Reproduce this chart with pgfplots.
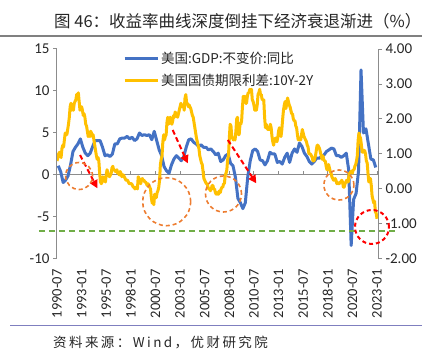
\documentclass[border=0pt]{standalone}
\usepackage{pgfplots}
\pgfplotsset{compat=1.18}
\usepackage{pgfplotstable}
\usepackage{fontspec}
\setmainfont{Carlito}
\newfontfamily\cjk{Noto Sans CJK SC}
\usetikzlibrary{arrows.meta}
\definecolor{gdpblue}{HTML}{4472C4}
\definecolor{spreadyellow}{HTML}{FFC000}
\definecolor{annorange}{HTML}{ED7D31}
\definecolor{anngreen}{HTML}{70AD47}
\definecolor{axgray}{HTML}{8C8C8C}
\definecolor{srcline}{HTML}{7F7FBF}

% US 10Y-2Y spread, monthly from 1990-07
\pgfplotstableread[row sep=\\]{v\\
0.80\\0.90\\1.00\\1.05\\0.95\\0.90\\
1.15\\1.25\\1.20\\1.40\\1.60\\1.55\\1.55\\1.70\\1.85\\2.05\\2.35\\2.45\\
2.25\\2.35\\2.25\\2.45\\2.50\\2.55\\2.70\\2.65\\2.75\\2.50\\2.25\\2.30\\
2.35\\2.25\\2.10\\2.15\\2.05\\1.85\\1.80\\1.65\\1.50\\1.55\\1.50\\1.65\\
1.60\\1.50\\1.55\\1.40\\1.25\\1.10\\0.95\\0.85\\0.90\\0.80\\0.45\\0.20\\
0.15\\0.20\\0.35\\0.30\\0.30\\0.20\\0.40\\0.55\\0.45\\0.40\\0.35\\0.40\\
0.45\\0.60\\0.65\\0.55\\0.55\\0.50\\0.50\\0.55\\0.45\\0.45\\0.40\\0.50\\
0.45\\0.35\\0.40\\0.40\\0.35\\0.30\\0.25\\0.25\\0.25\\0.20\\0.15\\0.15\\
0.15\\0.15\\0.10\\0.05\\0.05\\0.00\\0.05\\0.05\\0.00\\0.35\\0.30\\0.20\\
0.15\\0.25\\0.30\\0.25\\0.25\\0.20\\0.20\\0.15\\0.10\\0.15\\0.10\\0.05\\
0.00\\-0.25\\-0.40\\-0.35\\-0.45\\-0.15\\-0.20\\-0.25\\-0.10\\-0.05\\0.05\\0.25\\
0.70\\0.85\\0.95\\1.35\\1.55\\1.40\\1.50\\1.55\\1.90\\2.05\\1.85\\2.00\\
2.05\\1.95\\1.85\\1.95\\2.10\\2.05\\2.20\\2.15\\2.10\\2.05\\2.15\\2.25\\
2.35\\2.45\\2.35\\2.40\\2.40\\2.25\\2.60\\2.70\\2.45\\2.45\\2.35\\2.40\\
2.35\\2.30\\2.20\\2.10\\2.05\\1.90\\1.75\\1.60\\1.45\\1.35\\1.25\\1.15\\
0.95\\0.85\\0.75\\0.70\\0.50\\0.30\\0.25\\0.20\\0.15\\0.15\\0.05\\0.00\\
0.00\\-0.05\\0.00\\0.10\\0.10\\0.00\\0.00\\-0.10\\-0.15\\-0.10\\-0.15\\-0.15\\
-0.05\\-0.10\\0.00\\0.05\\0.05\\0.15\\0.15\\0.40\\0.45\\0.55\\0.85\\0.95\\
1.45\\1.85\\1.80\\1.50\\1.45\\1.40\\1.45\\1.40\\1.65\\2.00\\2.05\\1.55\\
1.55\\1.85\\1.85\\1.95\\2.35\\2.65\\2.60\\2.65\\2.45\\2.45\\2.65\\2.75\\
2.75\\2.85\\2.80\\2.85\\2.55\\2.50\\2.40\\2.25\\2.25\\2.25\\2.40\\2.70\\
2.75\\2.85\\2.70\\2.70\\2.55\\2.55\\2.55\\2.05\\1.75\\1.85\\1.75\\1.70\\
1.70\\1.70\\1.85\\1.75\\1.50\\1.35\\1.25\\1.40\\1.45\\1.45\\1.35\\1.45\\
1.65\\1.75\\1.70\\1.50\\1.70\\2.00\\2.25\\2.40\\2.50\\2.30\\2.45\\2.60\\
2.50\\2.40\\2.35\\2.25\\2.15\\2.15\\2.00\\1.95\\1.95\\1.80\\1.75\\1.55\\
1.40\\1.45\\1.40\\1.40\\1.55\\1.70\\1.60\\1.50\\1.45\\1.40\\1.35\\1.25\\
1.20\\1.00\\1.00\\1.00\\0.95\\0.90\\0.80\\0.80\\0.85\\0.95\\1.10\\1.25\\
1.25\\1.20\\1.15\\1.05\\0.95\\0.85\\0.95\\0.85\\0.80\\0.80\\0.65\\0.55\\
0.55\\0.70\\0.60\\0.50\\0.45\\0.35\\0.30\\0.25\\0.25\\0.30\\0.25\\0.15\\
0.18\\0.15\\0.15\\0.20\\0.20\\0.25\\0.20\\0.05\\0.05\\0.15\\0.20\\0.25\\
0.20\\0.20\\0.45\\0.45\\0.50\\0.50\\0.45\\0.55\\0.55\\0.65\\0.70\\0.80\\
0.95\\1.40\\1.60\\1.50\\1.45\\1.25\\1.05\\1.05\\1.10\\1.10\\1.00\\0.80\\
0.75\\0.45\\0.20\\0.20\\0.30\\0.10\\-0.20\\-0.30\\-0.40\\-0.35\\-0.65\\-0.70\\
-0.85\\
}\spread

\pgfplotsset{
  common/.style={
    at={(57pt,94pt)}, anchor=south west, scale only axis,
    width=321pt, height=210pt,
    xmin=1990.5, xmax=2023.1,
    xtick={1990.5,1993,1995.5,1998,2000.5,2003,2005.5,2008,2010.5,2013,2015.5,2018,2020.5,2023},
    major tick length=4pt,
    /pgf/number format/assume math mode=true,
    yticklabel style={font=\fontsize{15}{17}\selectfont, text=black!85},
    xticklabel style={font=\fontsize{14.5}{17}\selectfont, text=black!85},
  }
}

\begin{document}
\begin{tikzpicture}
\useasboundingbox (0pt,0pt) rectangle (437pt,353pt);

% title and rules
\node[anchor=west, inner sep=0pt, font=\cjk\fontsize{16.5}{20}\selectfont, text=black!85] at (54pt,331.5pt) {图 46：收益率曲线深度倒挂下经济衰退渐进（\%）};
\draw[gray, line width=1.2pt] (0pt,317pt) -- (422pt,317pt);
\draw[srcline, line width=1pt] (10pt,27pt) -- (422pt,27pt);
\node[anchor=west, inner sep=0pt, font=\cjk\fontsize{13.5}{16}\selectfont\addfontfeature{LetterSpace=18}, text=black!85] at (53pt,10pt) {资料来源：Wind，优财研究院};

% left axis: GDP
\begin{axis}[common,
  ymin=-10, ymax=15,
  axis x line*=middle, axis y line*=left,
  axis line style={draw=axgray, line width=1pt},
  xticklabels={},
  ytick={-10,-5,0,5,10,15},
  xtick align=inside, ytick align=outside,
  tick style={draw=axgray, line width=1pt},
  clip=false,
]
\addplot[gdpblue, line width=3pt, line join=round] coordinates {
(1990.625,1.1) (1990.875,0.4)
(1991.125,-0.9) (1991.375,-0.6) (1991.625,-0.1) (1991.875,1.2)
(1992.125,2.8) (1992.375,3.3) (1992.625,3.7) (1992.875,4.3)
(1993.125,3.3) (1993.375,2.6) (1993.625,2.3) (1993.875,2.6)
(1994.125,3.4) (1994.375,4.1) (1994.625,4.1) (1994.875,4.1)
(1995.125,3.3) (1995.375,2.3) (1995.625,2.4) (1995.875,2.2)
(1996.125,2.5) (1996.375,3.7) (1996.625,3.7) (1996.875,4.3)
(1997.125,4.4) (1997.375,4.4) (1997.625,4.6) (1997.875,4.3)
(1998.125,4.5) (1998.375,4.1) (1998.625,4.3) (1998.875,5.0)
(1999.125,4.7) (1999.375,4.8) (1999.625,4.7) (1999.875,4.8)
(2000.125,4.2) (2000.375,5.2) (2000.625,4.1) (2000.875,3.0)
(2001.125,2.3) (2001.375,1.0) (2001.625,0.5) (2001.875,0.2)
(2002.125,1.2) (2002.375,1.9) (2002.625,2.3) (2002.875,2.0)
(2003.125,1.7) (2003.375,2.2) (2003.625,3.3) (2003.875,4.2)
(2004.125,4.3) (2004.375,3.9) (2004.625,3.7) (2004.875,3.4)
(2005.125,3.6) (2005.375,3.3) (2005.625,3.3) (2005.875,3.0)
(2006.125,3.1) (2006.375,2.8) (2006.625,2.4) (2006.875,2.6)
(2007.125,1.6) (2007.375,1.8) (2007.625,2.3) (2007.875,2.5)
(2008.125,1.4) (2008.375,1.1) (2008.625,-0.3) (2008.875,-2.8)
(2009.125,-3.3) (2009.375,-4.0) (2009.625,-3.3) (2009.875,-0.2)
(2010.125,1.7) (2010.375,2.9) (2010.625,3.1) (2010.875,2.8)
(2011.125,1.8) (2011.375,1.7) (2011.625,1.2) (2011.875,1.7)
(2012.125,2.7) (2012.375,2.5) (2012.625,2.5) (2012.875,1.5)
(2013.125,1.6) (2013.375,1.3) (2013.625,2.1) (2013.875,2.6)
(2014.125,1.5) (2014.375,2.6) (2014.625,3.1) (2014.875,2.7)
(2015.125,3.8) (2015.375,3.4) (2015.625,2.6) (2015.875,2.2)
(2016.125,1.6) (2016.375,1.3) (2016.625,1.6) (2016.875,2.0)
(2017.125,2.0) (2017.375,2.2) (2017.625,2.4) (2017.875,2.8)
(2018.125,3.0) (2018.375,3.2) (2018.625,3.1) (2018.875,2.3)
(2019.125,2.3) (2019.375,2.1) (2019.625,2.3) (2019.875,2.6)
(2020.125,0.6) (2020.375,-8.4) (2020.625,-2.9) (2020.875,-2.2)
(2021.125,0.5) (2021.375,12.5) (2021.625,5.0) (2021.875,5.5)
(2022.125,3.7) (2022.375,1.9) (2022.625,1.8) (2022.875,0.9)
};
\end{axis}

% right axis: spread
\begin{axis}[common,
  ymin=-2, ymax=4,
  axis y line*=right, axis x line*=bottom,
  x axis line style={draw=none},
  y axis line style={draw=axgray, line width=1pt},
  xticklabels={1990-07,1993-01,1995-07,1998-01,2000-07,2003-01,2005-07,2008-01,2010-07,2013-01,2015-07,2018-01,2020-07,2023-01},
  xtick style={draw=none},
  xtick align=inside, ytick align=outside,
  xticklabel style={rotate=90, anchor=east},
  xticklabel shift=7pt,
  ytick={-2,-1,0,1,2,3,4},
  ytick style={draw=axgray, line width=1pt},
  y tick label style={/pgf/number format/fixed, /pgf/number format/fixed zerofill, /pgf/number format/precision=2},
  legend style={at={(0.205,0.995)}, anchor=north west, draw=none, fill=none,
    font=\cjk\fontsize{13.5}{15}\selectfont, text=black!85, row sep=5pt, inner sep=0pt},
  legend cell align=left,
  legend image code/.code={\draw[#1] (0pt,0pt) -- (33pt,0pt);},
]
\addlegendimage{gdpblue, line width=3pt}
\addlegendentry{美国:GDP:不变价:同比}
\addplot[spreadyellow, line width=3pt, line join=round] table[x expr=1990.5+\coordindex/12, y=v] {\spread};
\addlegendentry{美国国债期限利差:10Y-2Y}
\end{axis}

% annotations (left-axis coordinates)
\begin{axis}[common, ymin=-10, ymax=15, hide axis, clip=false]
\addplot[anngreen, line width=1.8pt, dash pattern=on 6pt off 4pt] coordinates {(1988.67,-6.67) (2024.85,-6.67)};
\addplot[only marks, mark=o, mark size=13.5pt, annorange, line width=1.6pt, dash pattern=on 4pt off 3pt] coordinates {(1992.74,-0.12)};
\addplot[only marks, mark=o, mark size=24pt, annorange, line width=1.6pt, dash pattern=on 4pt off 3pt] coordinates {(2001.64,-3.18)};
\addplot[only marks, mark=o, mark size=18pt, annorange, line width=1.6pt, dash pattern=on 4pt off 3pt] coordinates {(2007.41,-2.26)};
\addplot[only marks, mark=o, mark size=15pt, annorange, line width=1.6pt, dash pattern=on 4pt off 3pt] coordinates {(2019.13,-1.19)};
\addplot[only marks, mark=o, mark size=17pt, red, line width=2pt, dash pattern=on 4pt off 3pt] coordinates {(2022.49,-6.19)};
\addplot[red, line width=2pt, dash pattern=on 5pt off 3pt, -{Triangle[length=8pt,width=8pt]}] coordinates {(1992.84,2.38) (1994.6,-1.58)};
\addplot[red, line width=2pt, dash pattern=on 5pt off 3pt, -{Triangle[length=8pt,width=8pt]}] coordinates {(2002.25,5.36) (2003.78,1.39)};
\addplot[red, line width=2pt, dash pattern=on 5pt off 3pt, -{Triangle[length=8pt,width=8pt]}] coordinates {(2007.85,4.17) (2010.74,-0.99)};
\end{axis}
\end{tikzpicture}
\end{document}
